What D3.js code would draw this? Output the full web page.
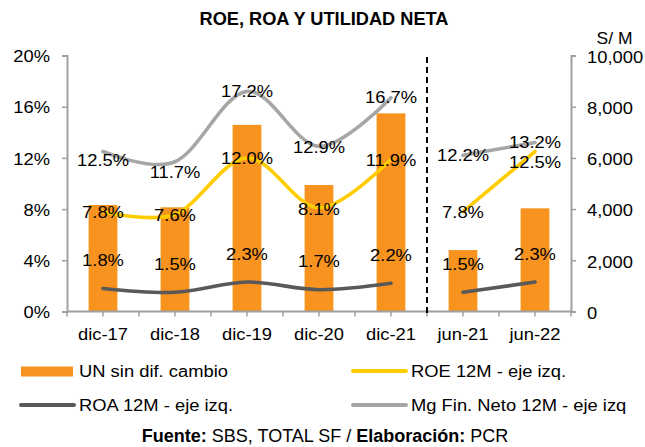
<!DOCTYPE html>
<html><head><meta charset="utf-8">
<script src="https://cdn.jsdelivr.net/npm/d3@7"></script>
<style>
html,body{margin:0;padding:0;background:#fff;}
svg{display:block;font-family:"Liberation Sans",Arial,sans-serif;}
</style></head>
<body><svg id="c" width="645" height="447"></svg>
<script>
const categories = ["dic-17","dic-18","dic-19","dic-20","dic-21","jun-21","jun-22"];
const utilidadNeta = [4160, 4070, 7290, 4940, 7740, 2400, 4030];
const roe = [7.8, 7.6, 12.0, 8.1, 11.9, 7.8, 12.5];
const roa = [1.8, 1.5, 2.3, 1.7, 2.2, 1.5, 2.3];
const mgFin = [12.5, 11.7, 17.2, 12.9, 16.7, 12.2, 13.2];
const leftTicks = [0, 4, 8, 12, 16, 20];
const rightTicks = [0, 2000, 4000, 6000, 8000, 10000];
const segments = [[0,5],[5,7]];

const svg = d3.select("#c");
const FS = 16.4, SX = 1.12;
const L = 67, R = 571, T = 55.5, B = 311.5;

const x = d3.scaleBand().domain(categories).range([L, R]).paddingInner(0.6).paddingOuter(0.3);
const cx = c => x(c) + x.bandwidth()/2;
const yL = d3.scaleLinear().domain([0, 20]).range([B, T]);
const yR = d3.scaleLinear().domain([0, 10000]).range([B, T]);

function stext(g, tx, ty, str, anchor, opts={}) {
  return g.append("text")
    .attr("transform", `translate(${tx},${ty}) scale(${SX},1)`)
    .attr("text-anchor", anchor)
    .attr("dy", "0.35em")
    .attr("font-size", opts.fs || FS)
    .attr("fill", opts.fill || "#000")
    .text(str);
}

// Title
svg.append("text").attr("x", 324).attr("y", 25).attr("text-anchor","middle")
  .attr("font-size", 18.2).attr("font-weight","bold").text("ROE, ROA Y UTILIDAD NETA");

// Bars
svg.append("g").selectAll("rect").data(categories).join("rect")
  .attr("x", c => x(c)).attr("width", x.bandwidth())
  .attr("y", (c,i) => yR(utilidadNeta[i])).attr("height", (c,i) => B - yR(utilidadNeta[i]))
  .attr("fill", "#F7931E");

// Axes
const axisColor = "#A0A0A0";
const gl = svg.append("g").attr("transform", `translate(${L},0)`)
  .call(d3.axisLeft(yL).tickValues(leftTicks).tickSize(5).tickFormat(d => d + "%"));
const gr = svg.append("g").attr("transform", `translate(${R},0)`)
  .call(d3.axisRight(yR).tickValues(rightTicks).tickSize(5).tickFormat(d3.format(",")));
const gb = svg.append("g").attr("transform", `translate(0,${B})`)
  .call(d3.axisBottom(x).tickSize(5).tickFormat(""));
[gl, gr, gb].forEach(g => {
  g.select(".domain").attr("stroke", axisColor).attr("stroke-width", 2);
  g.selectAll(".tick line").attr("stroke", axisColor).attr("stroke-width", 1.5);
  g.selectAll(".tick text").remove();
});
gb.select(".domain").attr("d", `M${L},0H${R}`);
// boundary ticks
const bounds = d3.range(categories.length + 1).map(k => L + k * x.step());
gb.selectAll(".btick").data(bounds).join("line").attr("class","btick")
  .attr("x1", d => d).attr("x2", d => d).attr("y1", 0).attr("y2", 5)
  .attr("stroke", axisColor).attr("stroke-width", 1.5);

const labels = svg.append("g");
leftTicks.forEach(v => stext(labels, 50, yL(v) + 1, v + "%", "end"));
rightTicks.forEach(v => stext(labels, 587, yR(v) + 1.5, d3.format(",")(v), "start"));
stext(labels, 614.5, 38.5, "S/ M", "middle", {fs: 15.6});
categories.forEach(c => stext(labels, cx(c), 334.5, c, "middle"));

// Dashed separator
svg.append("line").attr("x1", bounds[5]).attr("x2", bounds[5]).attr("y1", 57).attr("y2", 315)
  .attr("stroke", "#000").attr("stroke-width", 2).attr("stroke-dasharray", "6,4");

// Lines
const series = [
  {vals: mgFin, color: "#A6A6A6"},
  {vals: roe, color: "#FFCC00"},
  {vals: roa, color: "#595959"}
];
const line = d3.line().x(d => cx(categories[d.i])).y(d => yL(d.v)).curve(d3.curveCatmullRom.alpha(0));
series.forEach(s => {
  segments.forEach(([a, b]) => {
    const pts = d3.range(a, b).map(i => ({i, v: s.vals[i]}));
    svg.append("path").attr("d", line(pts)).attr("fill", "none")
      .attr("stroke", s.color).attr("stroke-width", 3.6).attr("stroke-linecap", "round");
  });
});

// Data labels
const dl = svg.append("g");
const mgOff = [9, 11, 0, 1, 0, 0, 0];
const roeOff = [1, 1.5, 0, 1.5, 1.5, 1, 10.5];
mgFin.forEach((v, i) => stext(dl, cx(categories[i]), yL(v) + mgOff[i], v.toFixed(1) + "%", "middle"));
roe.forEach((v, i) => stext(dl, cx(categories[i]), yL(v) + roeOff[i], v.toFixed(1) + "%", "middle"));
roa.forEach((v, i) => stext(dl, cx(categories[i]), yL(v) - 28, v.toFixed(1) + "%", "middle"));

// Legend
const lg = svg.append("g");
lg.append("rect").attr("x", 21).attr("y", 366.5).attr("width", 52).attr("height", 10).attr("fill", "#F7931E");
stext(lg, 79, 371.5, "UN sin dif. cambio", "start");
const legLines = [
  {x: 353, y: 371, color: "#FFCC00", text: "ROE 12M - eje izq."},
  {x: 21, y: 405, color: "#595959", text: "ROA 12M - eje izq."},
  {x: 353, y: 405, color: "#A6A6A6", text: "Mg Fin. Neto 12M - eje izq"}
];
legLines.forEach(d => {
  lg.append("line").attr("x1", d.x).attr("x2", d.x + 53).attr("y1", d.y).attr("y2", d.y)
    .attr("stroke", d.color).attr("stroke-width", 4).attr("stroke-linecap", "round");
  stext(lg, d.x + 58, d.y, d.text, "start");
});

// Footer
const ft = svg.append("text").attr("x", 325).attr("y", 442).attr("text-anchor", "middle").attr("font-size", 18);
ft.append("tspan").attr("font-weight", "bold").text("Fuente:");
ft.append("tspan").text(" SBS, TOTAL SF / ");
ft.append("tspan").attr("font-weight", "bold").text("Elaboración:");
ft.append("tspan").text(" PCR");
</script></body></html>
